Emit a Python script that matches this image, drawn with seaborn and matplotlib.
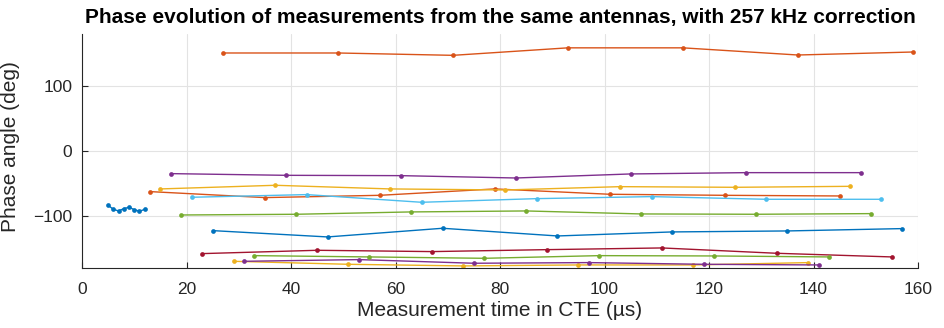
import numpy as np
import pandas as pd
import matplotlib
matplotlib.use("Agg")
import matplotlib.pyplot as plt
import seaborn as sns

# ---- data ----
x_s1 = [5, 6, 7, 8, 9, 10, 11, 12]
y_s1 = [-83.1, -89.3, -91.8, -88.2, -86.2, -89.8, -92.3, -89.3]

x_s2 = [13, 35, 57, 79, 101, 123, 145]
y_s2 = [-62.1, -71.3, -67.8, -58.0, -66.2, -67.8, -68.8]

x_s3 = [15, 37, 59, 81, 103, 125, 147]
y_s3 = [-58.0, -52.4, -58.0, -59.6, -54.5, -55.5, -54.0]

x_s4 = [17, 39, 61, 83, 105, 127, 149]
y_s4 = [-34.5, -37.1, -37.6, -41.2, -35.0, -33.0, -33.0]

x_s5 = [19, 41, 63, 85, 107, 129, 151]
y_s5 = [-98.0, -96.9, -93.3, -91.8, -96.4, -96.9, -95.9]

x_s6 = [21, 43, 65, 87, 109, 131, 153]
y_s6 = [-70.8, -66.7, -78.5, -72.9, -69.8, -73.9, -73.9]

x_s7 = [23, 45, 67, 89, 111, 133, 155]
y_s7 = [-157.3, -152.2, -154.2, -151.2, -148.6, -156.8, -162.4]

x_s8 = [25, 47, 69, 91, 113, 135, 157]
y_s8 = [-122.0, -131.7, -118.4, -130.2, -124.0, -122.5, -118.9]

x_s9 = [27, 49, 71, 93, 115, 137, 159]
y_s9 = [150.7, 150.7, 147.1, 158.6, 158.6, 147.6, 152.2]

x_s10 = [29, 51, 73, 95, 117, 139]
y_s10 = [-169.1, -173.7, -176.2, -174.7, -174.7, -171.1]

x_s11 = [31, 53, 75, 97, 119, 141]
y_s11 = [-169.1, -166.5, -172.1, -171.1, -173.7, -174.7]

x_s12 = [33, 55, 77, 99, 121, 143]
y_s12 = [-160.4, -162.4, -164.5, -160.4, -160.9, -162.4]

xs = [x_s1, x_s2, x_s3, x_s4, x_s5, x_s6, x_s7, x_s8, x_s9, x_s10, x_s11, x_s12]
ys = [y_s1, y_s2, y_s3, y_s4, y_s5, y_s6, y_s7, y_s8, y_s9, y_s10, y_s11, y_s12]

x_ticks = [0, 20, 40, 60, 80, 100, 120, 140, 160]
y_ticks = [-100, 0, 100]

title = "Phase evolution of measurements from the same antennas, with 257 kHz correction"
xlabel = "Measurement time in CTE (µs)"
ylabel = "Phase angle (deg)"

# ---- style ----
matlab_colors = ["#0072BD", "#D95319", "#EDB120", "#7E2F8E", "#77AC30", "#4DBEEE", "#A2142F"]
palette = [matlab_colors[i % 7] for i in range(len(xs))]

rows = []
for i, (xx, yy) in enumerate(zip(xs, ys)):
    for a, b in zip(xx, yy):
        rows.append({"series": f"s{i+1}", "t": a, "phase": b})
df = pd.DataFrame(rows)

sns.set_theme(style="white")
plt.rcParams["font.family"] = ["Liberation Sans", "DejaVu Sans"]

fig = plt.figure(figsize=(9.44, 3.28), dpi=100)
ax = fig.add_axes([82 / 944, 1 - 268.4 / 328, (918 - 82) / 944, (268.4 - 33.9) / 328])

sns.lineplot(data=df, x="t", y="phase", hue="series", palette=palette,
             estimator=None, sort=False, marker="o", markersize=3.4,
             markeredgewidth=0, linewidth=1.0, legend=False, ax=ax)

ax.set_xlim(0, 160)
ax.set_ylim(-180, 180)
ax.set_xticks(x_ticks)
ax.set_yticks(y_ticks)
ax.grid(True, color="#e3e3e3", linewidth=0.8)
ax.set_axisbelow(True)
for s in ["top", "right"]:
    ax.spines[s].set_visible(False)
for s in ["left", "bottom"]:
    ax.spines[s].set_color("#262626")
    ax.spines[s].set_linewidth(0.8)
ax.tick_params(direction="in", length=4, width=0.8, color="#262626",
               labelcolor="#262626", labelsize=12.5,
               bottom=True, left=True)
ax.tick_params(axis="x", pad=9.5)
ax.tick_params(axis="y", pad=7)
ax.set_xlabel(xlabel, fontsize=15, color="#262626", labelpad=3)
ax.set_ylabel(ylabel, fontsize=15, color="#262626", labelpad=6)
ax.yaxis.set_label_coords(-0.074, 0.52)
ax.set_title(title, fontsize=15, fontweight="bold", color="black", pad=8)

fig.savefig("out.png", dpi=100)
